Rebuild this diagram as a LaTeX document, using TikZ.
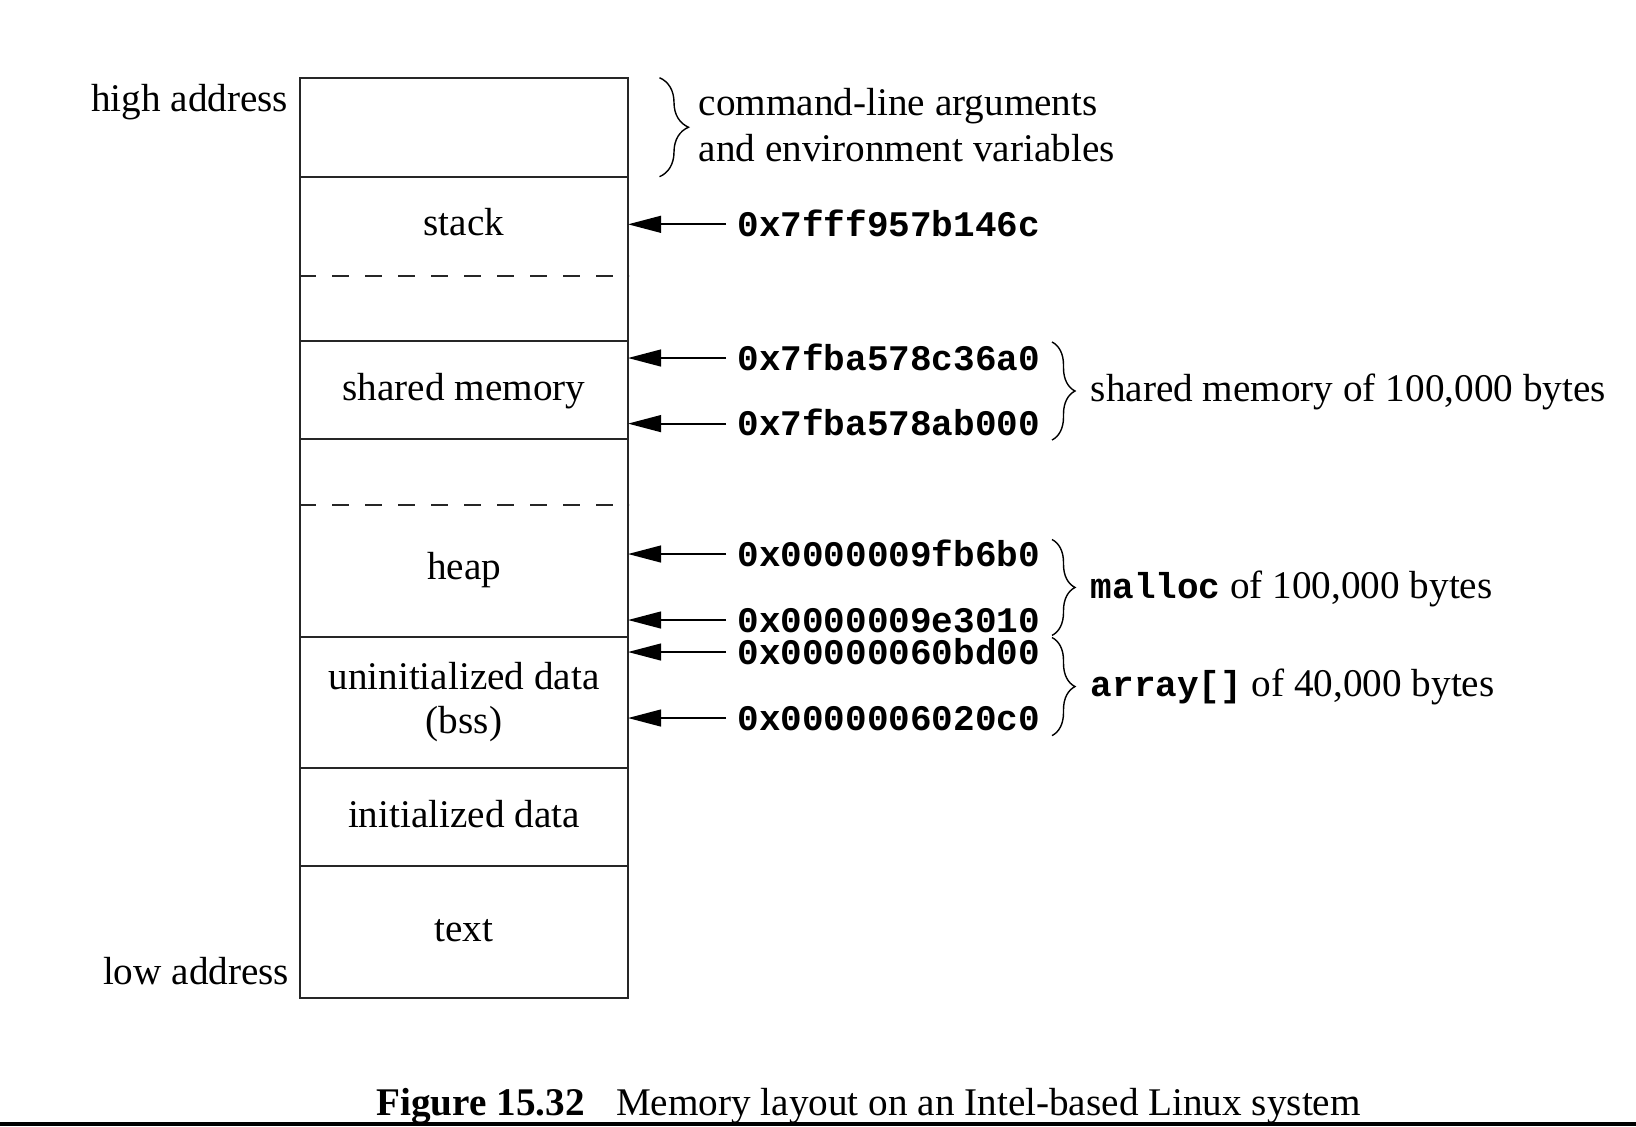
\documentclass[tikz,border=0pt]{standalone}
\usepackage{fontspec}
\setmainfont{Liberation Serif}
\setmonofont{Liberation Mono}
\usetikzlibrary{arrows.meta,decorations.pathreplacing}

\tikzset{
  every node/.style={font=\fontsize{9.8}{11.5}\selectfont, inner sep=0pt},
  seg/.style={draw=black!85, line width=0.5pt, minimum width=82pt},
  lbl/.style={anchor=base},
  hex/.style={anchor=west, inner xsep=2.65pt, font=\fontsize{9}{11.5}\selectfont\ttfamily\bfseries,
              text height=0.6em, text depth=0pt},
  arr/.style={line width=0.45pt, -{Triangle[length=8.25pt,width=4.2pt]}},
  dashln/.style={draw=black!85, line width=0.45pt, dash pattern=on 4.25pt off 4pt},
  brc/.style={line width=0.35pt, decorate, decoration={brace, amplitude=#1}},
  note/.style={anchor=base west}
}
\newcommand{\mono}[1]{{\fontsize{9}{11.5}\selectfont\ttfamily\bfseries #1}}

\begin{document}
\begin{tikzpicture}[x=0.25pt, y=-0.25pt]
\useasboundingbox (0,0) rectangle (1636,1126);

% memory segments, top to bottom
\node[seg, minimum height=24.75pt]  (args)  at (464,127.2)  {};
\node[seg, minimum height=41.075pt] (stack) at (464,258.85) {};
\node[seg, minimum height=24.5pt]   (shm)   at (464,390)    {};
\node[seg, minimum height=49.425pt] (heap)  at (464,537.85) {};
\node[seg, minimum height=32.75pt]  (bss)   at (464,702.2)  {};
\node[seg, minimum height=24.575pt] (data)  at (464,816.85) {};
\node[seg, minimum height=32.925pt] (txt)   at (464,931.85) {};

% gaps below the stack and above the heap
\draw[dashln] (stack.west |- 0,276) -- (stack.east |- 0,276);
\draw[dashln] (heap.west |- 0,505) -- (heap.east |- 0,505);

% segment names
\node[lbl] (lstack) at (464,235) {stack};
\node[lbl] (lshm)   at (464,400) {shared memory};
\node[lbl] (lheap)  at (464,579) {heap};
\node[lbl] (lbss)   at (464,689) {uninitialized data};
\node[lbl] (lbss2)  at (464,733) {(bss)};
\node[lbl] (ldata)  at (464,827) {initialized data};
\node[lbl] (ltext)  at (464,941) {text};

% address ends
\node[anchor=base east] (high) at (289,111.5) {high address};
\node[anchor=base east] (low)  at (290,984.5) {low address};

% points on the right edge of the column
\coordinate (e1) at (628,224.3);
\coordinate (e2) at (628,358);
\coordinate (e3) at (628,423.6);
\coordinate (e4) at (628,554);
\coordinate (e5) at (628,620);
\coordinate (e6) at (628,652);
\coordinate (e7) at (628,718);

% printed addresses
\node[hex] (h1) at (726,224.3) {0x7fff957b146c};
\node[hex] (h2) at (726,358)   {0x7fba578c36a0};
\node[hex] (h3) at (726,423.6) {0x7fba578ab000};
\node[hex] (h4) at (726,554)   {0x0000009fb6b0};
\node[hex] (h5) at (726,620)   {0x0000009e3010};
\node[hex] (h6) at (726,652)   {0x00000060bd00};
\node[hex] (h7) at (726,718)   {0x0000006020c0};

\draw[arr] (h1.west) -- (e1);
\draw[arr] (h2.west) -- (e2);
\draw[arr] (h3.west) -- (e3);
\draw[arr] (h4.west) -- (e4);
\draw[arr] (h5.west) -- (e5);
\draw[arr] (h6.west) -- (e6);
\draw[arr] (h7.west) -- (e7);

% braces and their notes
\coordinate (b1t) at (659.5,77.7);  \coordinate (b1b) at (659.5,176.7);
\coordinate (b2t) at (1052,342);    \coordinate (b2b) at (1052,440);
\coordinate (b3t) at (1052,539.5);  \coordinate (b3b) at (1052,635.4);
\coordinate (b4t) at (1052,637.5);  \coordinate (b4b) at (1052,735.6);

\draw[brc=7.25pt] (b1t) -- (b1b);
\draw[brc=5.75pt] (b2t) -- (b2b);
\draw[brc=5.75pt] (b3t) -- (b3b);
\draw[brc=5.75pt] (b4t) -- (b4b);

\node[anchor=west, align=left] (n1) at (698,125)
  {command-line arguments\\and environment variables};
\node[note] (n2) at (1090,401) {shared memory of 100,000 bytes};
\node[note] (n3) at (1090,598) {\mono{malloc} of 100,000 bytes};
\node[note] (n4) at (1090,696) {\mono{array[]} of 40,000 bytes};

% caption and rule
\node[anchor=base west] (cap) at (375.6,1115)
  {\textbf{Figure 15.32}\hspace{0.8em}Memory layout on an Intel-based Linux system};
\fill (0,1121.5) rectangle (1636,1126);
\end{tikzpicture}
\end{document}
